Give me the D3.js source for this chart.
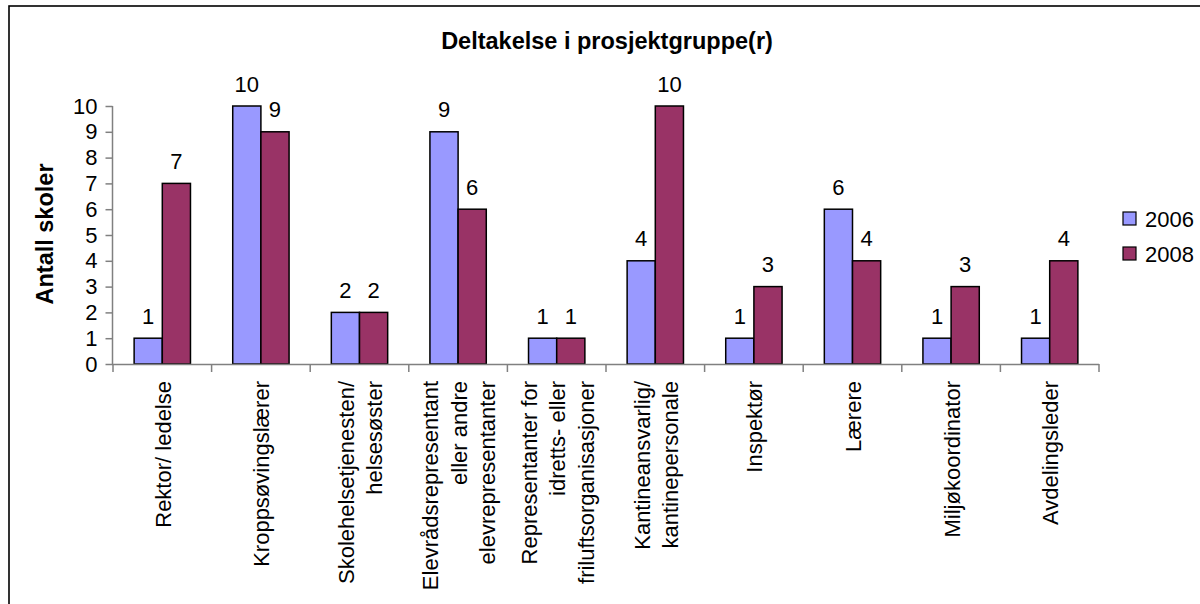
<!DOCTYPE html>
<html><head><meta charset="utf-8">
<script src="https://cdn.jsdelivr.net/npm/d3@7"></script>
<style>
html,body{margin:0;padding:0;background:#fff;}
svg{display:block;font-family:"Liberation Sans",Arial,sans-serif;}
</style></head>
<body>
<svg id="chart" width="1200" height="604"></svg>
<script>
const categories = [
  ["Rektor/ ledelse"],
  ["Kroppsøvingslærer"],
  ["Skolehelsetjenesten/","helsesøster"],
  ["Elevrådsrepresentant","eller andre","elevrepresentanter"],
  ["Representanter for","idretts- eller","friluftsorganisasjoner"],
  ["Kantineansvarlig/","kantinepersonale"],
  ["Inspektør"],
  ["Lærere"],
  ["Miljøkoordinator"],
  ["Avdelingsleder"]
];
const seriesNames = ["2006","2008"];
const values2006 = [1,10,2,9,1,4,1,6,1,1];
const values2008 = [7,9,2,6,1,10,3,4,3,4];
const yTicks = [0,1,2,3,4,5,6,7,8,9,10];
const colors = ["#9999FF","#993366"];
const title = "Deltakelse i prosjektgruppe(r)";
const yTitle = "Antall skoler";

const svg = d3.select("#chart");
const fs = 22;

// outer frame
svg.append("rect").attr("x",9).attr("y",6).attr("width",1300).attr("height",700)
  .attr("fill","none").attr("stroke","#000").attr("stroke-width",1.6);

const catIdx = categories.map((c,i)=>i);
const x0 = d3.scaleBand().domain(catIdx).range([113,1099]).paddingInner(0).paddingOuter(0);
const x1 = d3.scaleBand().domain(seriesNames).range([0,x0.bandwidth()]).paddingInner(0).paddingOuter(0.75);
const y = d3.scaleLinear().domain([0,10]).range([364,106]);

const data = catIdx.map(i=>({i, vals:[values2006[i], values2008[i]]}));

// bars
const g = svg.append("g");
data.forEach(d=>{
  d.vals.forEach((v,k)=>{
    const xs = x0(d.i)+x1(seriesNames[k]);
    g.append("rect").attr("x",xs).attr("y",y(v)).attr("width",x1.bandwidth()).attr("height",y(0)-y(v))
      .attr("fill",colors[k]).attr("stroke","#000").attr("stroke-width",1.5);
    g.append("text").attr("x",xs+x1.bandwidth()/2).attr("y",y(v)-14.5)
      .attr("text-anchor","middle").attr("font-size",fs).attr("fill","#000").text(v);
  });
});

// y axis
const yAxis = d3.axisLeft(y).tickValues(yTicks).tickSize(7).tickPadding(8).tickFormat(d3.format("d"));
const ya = svg.append("g").attr("transform","translate(112.5,0)").call(yAxis);
ya.select(".domain").attr("stroke","#808080").attr("stroke-width",1.5).attr("d","M0,106V364");
ya.selectAll(".tick line").attr("stroke","#808080").attr("stroke-width",1.5);
ya.selectAll(".tick text").attr("font-size",fs).attr("font-family","Liberation Sans, Arial, sans-serif").attr("fill","#000");

// x axis line and ticks at category boundaries
const xa = svg.append("g");
xa.append("line").attr("x1",112).attr("x2",x0.range()[1]).attr("y1",364.5).attr("y2",364.5)
  .attr("stroke","#808080").attr("stroke-width",1.5);
const bounds = catIdx.map(i=>x0(i)).concat([x0.range()[1]]);
xa.selectAll("line.tk").data(bounds).enter().append("line").attr("class","tk")
  .attr("x1",d=>d).attr("x2",d=>d).attr("y1",364).attr("y2",372)
  .attr("stroke","#808080").attr("stroke-width",1.5);

// category labels
const lh = 28.5;
catIdx.forEach(i=>{
  const cx = x0(i)+x0.bandwidth()/2;
  const lines = categories[i];
  const n = lines.length;
  lines.forEach((ln,j)=>{
    const bx = cx + (j-(n-1)/2)*lh + 8.5;
    svg.append("text").attr("transform",`translate(${bx},381) rotate(-90)`)
      .attr("text-anchor","end").attr("font-size",fs).attr("fill","#000").text(ln);
  });
});

// title
svg.append("text").attr("x",607).attr("y",49).attr("text-anchor","middle")
  .attr("font-size",23.5).attr("font-weight","bold").text(title);

// y title
svg.append("text").attr("transform","translate(53,234) rotate(-90)").attr("text-anchor","middle")
  .attr("font-size",23.5).attr("font-weight","bold").text(yTitle);

// legend
const leg = svg.append("g");
seriesNames.forEach((s,k)=>{
  const yy = 212 + k*35;
  leg.append("rect").attr("x",1123).attr("y",yy).attr("width",13).attr("height",13)
    .attr("fill",colors[k]).attr("stroke","#000").attr("stroke-width",1.2);
  leg.append("text").attr("x",1145).attr("y",yy+14.5).attr("font-size",fs).text(s);
});
</script>
</body></html>
